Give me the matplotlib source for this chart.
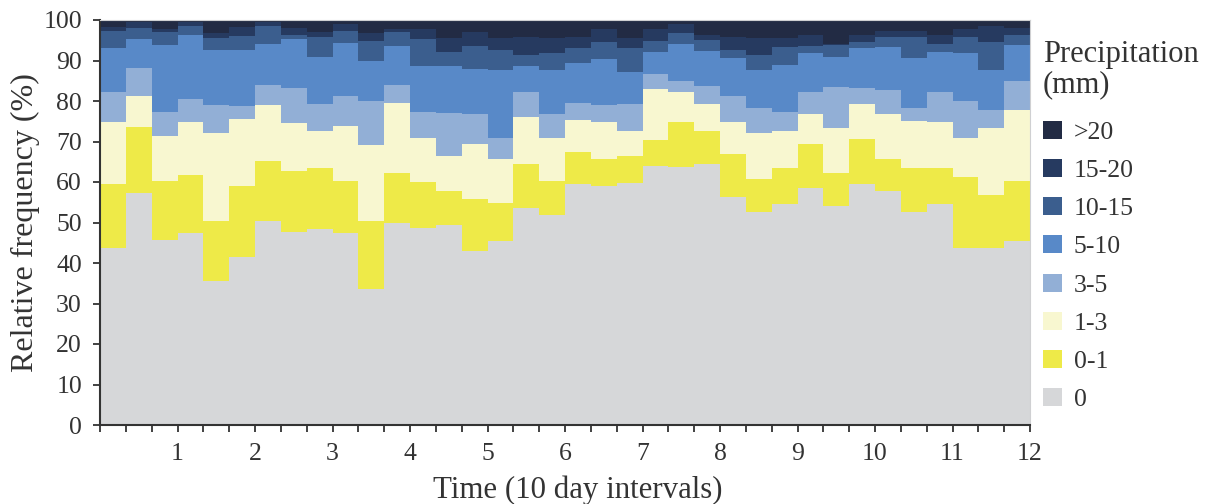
import numpy as np
import matplotlib
matplotlib.use("Agg")
import matplotlib.pyplot as plt
from matplotlib.patches import Patch

plt.rcParams['font.family'] = ['Liberation Serif', 'DejaVu Serif']

# relative frequency (%) of each precipitation class, 36 ten-day intervals
p_0 = [43.6, 57.2, 45.8, 47.3, 35.6, 41.4, 50.4, 47.7, 48.3, 47.3, 33.5, 49.8,
       48.7, 49.4, 43.0, 45.4, 53.5, 51.9, 59.5, 59.1, 59.8, 64.0, 63.7, 64.4,
       56.2, 52.7, 54.5, 58.6, 54.1, 59.5, 57.8, 52.7, 54.5, 43.8, 43.8, 45.5]
p_0_1 = [15.9, 16.5, 14.4, 14.4, 14.8, 17.6, 14.9, 14.9, 15.2, 12.9, 16.9, 12.5,
         11.4, 8.4, 12.7, 9.5, 10.9, 8.3, 8.0, 6.6, 6.7, 6.4, 11.2, 8.2,
         10.6, 8.0, 9.0, 10.8, 8.2, 11.1, 8.0, 10.8, 9.0, 17.5, 13.0, 14.7]
p_1_3 = [15.4, 7.5, 11.2, 13.2, 21.8, 16.5, 13.7, 11.9, 9.2, 13.7, 18.7, 17.1,
         10.8, 8.6, 13.6, 10.8, 11.7, 10.6, 7.8, 9.2, 6.2, 12.6, 7.2, 6.7,
         8.1, 11.5, 9.2, 7.3, 11.0, 8.7, 10.9, 11.6, 11.4, 9.6, 16.5, 17.7]
p_3_5 = [7.4, 6.9, 5.8, 5.6, 6.8, 3.3, 5.0, 8.6, 6.6, 7.3, 10.9, 4.6,
         6.3, 10.6, 7.5, 5.1, 6.0, 5.9, 4.1, 4.1, 6.6, 3.7, 2.8, 4.5,
         6.3, 6.0, 4.7, 5.6, 10.2, 4.0, 6.0, 3.1, 7.4, 9.1, 4.6, 7.1]
p_5_10 = [10.8, 7.2, 16.6, 15.8, 13.7, 13.9, 10.1, 12.2, 11.6, 13.1, 9.8, 9.5,
          11.4, 11.6, 11.1, 16.8, 6.5, 10.9, 10.0, 11.4, 7.9, 5.5, 9.2, 8.6,
          9.3, 9.5, 11.6, 9.5, 7.4, 9.7, 10.6, 12.3, 9.9, 11.9, 9.8, 8.8]
p_10_15 = [4.1, 2.7, 3.2, 2.1, 2.9, 3.3, 4.3, 1.1, 4.8, 2.9, 5.1, 3.5,
           6.7, 3.6, 5.8, 5.1, 2.8, 4.2, 3.7, 4.1, 5.9, 2.7, 2.7, 2.7,
           2.2, 3.7, 4.3, 1.7, 3.0, 1.5, 2.6, 5.4, 1.9, 4.0, 6.8, 2.5]
p_15_20 = [1.1, 1.4, 0.8, 1.0, 1.1, 2.3, 1.0, 1.7, 1.3, 1.8, 1.8, 0.8,
           2.5, 3.4, 3.3, 2.9, 4.5, 3.8, 2.8, 3.3, 2.5, 2.9, 2.2, 1.3,
           3.2, 4.2, 2.3, 2.9, 0.2, 1.9, 1.3, 1.3, 2.3, 1.9, 4.1, 1.8]
p_20 = [1.7, 0.6, 2.2, 0.6, 3.3, 1.7, 0.6, 1.9, 3.0, 1.0, 3.3, 2.2,
        2.2, 4.4, 3.0, 4.4, 4.1, 4.4, 4.1, 2.2, 4.4, 2.2, 1.0, 3.6,
        4.1, 4.4, 4.4, 3.6, 5.9, 3.6, 2.8, 2.8, 3.6, 2.2, 1.4, 1.9]

class_labels = ['0', '0-1', '1-3', '3-5', '5-10', '10-15', '15-20', '>20']
class_colors = ['#d6d7d9', '#eeea48', '#f8f7d0', '#92afd6', '#5889c8',
                '#3b5e8e', '#263a60', '#222b44']
month_labels = ['1', '2', '3', '4', '5', '6', '7', '8', '9', '10', '11', '12']

series = [p_0, p_0_1, p_1_3, p_3_5, p_5_10, p_10_15, p_15_20, p_20]
n = len(p_0)
edges = np.arange(n + 1) / 3.0

fig = plt.figure(figsize=(12.11, 5.04), dpi=100)
ax = fig.add_axes([100 / 1211, 1 - 425 / 504, 930 / 1211, 405 / 504])

bottom = np.zeros(n)
for vals, col in zip(series, class_colors):
    top = bottom + np.array(vals)
    ax.stairs(top, edges, baseline=bottom, fill=True, color=col, linewidth=0)
    bottom = top

ax.set_xlim(0, 12)
ax.set_ylim(0, 100)
ax.set_yticks(np.arange(0, 101, 10))
ax.set_xticks(np.arange(1, 13), labels=month_labels)
ax.set_xticks(edges, minor=True)

txt = '#333333'
ax.tick_params(axis='both', which='both', direction='out', length=5,
               width=1.3, color='#333333', labelsize=18.5, labelcolor=txt)
ax.tick_params(axis='x', which='both', pad=8)
ax.tick_params(axis='y', which='both', pad=8)
for s in ['left', 'bottom']:
    ax.spines[s].set_color('#333333')
    ax.spines[s].set_linewidth(1.5)
for s in ['top', 'right']:
    ax.spines[s].set_color('#cfd0d2')
    ax.spines[s].set_linewidth(0.8)

ax.set_xlabel('Time (10 day intervals)', fontsize=22.2, color=txt, labelpad=5)
ax.xaxis.set_label_coords(0.514, -0.125)
ax.set_ylabel('Relative frequency (%)', fontsize=23, color=txt, labelpad=2.5)

# legend title as separate text so the gap to the entries can be matched
fig.text(1043 / 1211, 1 - 40 / 504, 'Precipitation\n(mm)', ha='left', va='top',
         fontsize=22, linespacing=1.05, color=txt)

handles = [Patch(facecolor=c, edgecolor='none') for c in class_colors]
leg = fig.legend(handles[::-1], class_labels[::-1],
                 loc='upper left', bbox_to_anchor=(1043 / 1211, 1 - 121 / 504),
                 frameon=False, fontsize=18.5,
                 borderpad=0, handlelength=0.75,
                 handleheight=0.7, handletextpad=0.45, labelspacing=0.59,
                 borderaxespad=0)
for t in leg.get_texts():
    t.set_color(txt)

fig.savefig('out.png', dpi=100)
